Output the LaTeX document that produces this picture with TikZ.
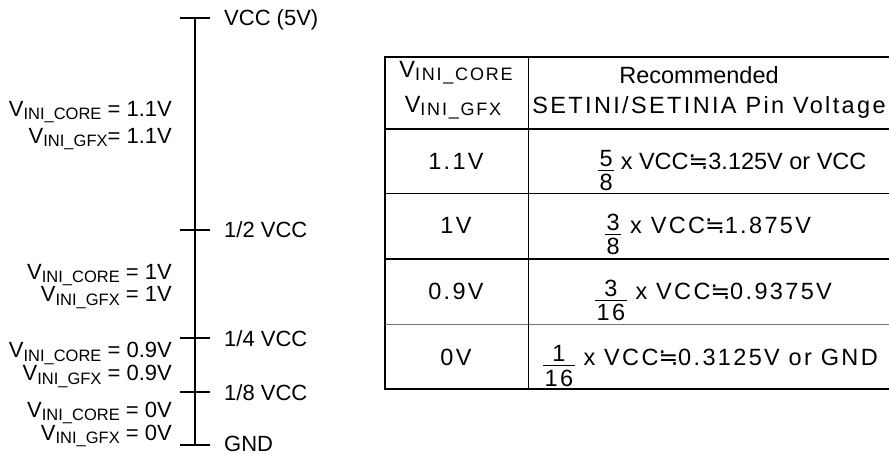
\documentclass[tikz,border=0pt]{standalone}
\usepackage{fontspec}
\setmainfont{Liberation Sans}
\newfontfamily\tabfont[LetterSpace=10]{Liberation Sans}
\newfontfamily\dejavu{DejaVu Sans}
\newcommand\vsub[1]{V\raisebox{-3pt}{\fontsize{16.5}{18}\selectfont #1}}
\newcommand\tvsub[1]{V\raisebox{-3pt}{\fontsize{18}{20}\selectfont #1}}
\newcommand\myappr{{\dejavu ≒}}
\newcommand\myfrac[2]{\raisebox{3pt}{\setlength\arrayrulewidth{1pt}\begin{tabular}[t]{@{\hspace{1.5pt}}c@{\hspace{1.5pt}}}#1\\[-5.5pt]\hline\noalign{\vskip1.5pt}#2\end{tabular}}}
\tikzset{
  txt/.style={inner sep=0pt, font=\fontsize{22}{26}\selectfont},
  ttxt/.style={inner sep=0pt, font=\fontsize{23.5}{27}\selectfont\tabfont},
  ttxtn/.style={inner sep=0pt, font=\fontsize{23.5}{27}\selectfont\rmfamily},
  scaleline/.style={line width=1.3pt},
  thickrule/.style={line width=2pt},
  thinrule/.style={line width=1pt},
}
\begin{document}
\begin{tikzpicture}[x=1pt,y=-1pt]
\useasboundingbox (0,0) rectangle (889,454);
% ---- scale ----
\coordinate (t1) at (195,18);
\coordinate (t2) at (195,230);
\coordinate (t3) at (195,338);
\coordinate (t4) at (195,392);
\coordinate (t5) at (195,445);
\draw[scaleline] (t1) -- (t5);
\foreach \t in {t1,t2,t3,t4,t5}
  \draw[scaleline] ([xshift=-15pt]\t) -- ([xshift=15pt]\t);
\node[txt, anchor=base west] (l1) at (224,26) {VCC (5V)};
\node[txt, anchor=base west] (l2) at (224,238) {1/2 VCC};
\node[txt, anchor=base west] (l3) at (224,346) {1/4 VCC};
\node[txt, anchor=base west] (l4) at (224,400) {1/8 VCC};
\node[txt, anchor=base west] (l5) at (224,451) {GND};
% ---- left labels ----
\node[txt, anchor=base east] (a1) at (172,117) {\vsub{INI\_CORE} = 1.1V};
\node[txt, anchor=base east] (a2) at (172,144) {\vsub{INI\_GFX}= 1.1V};
\node[txt, anchor=base east] (b1) at (172,280) {\vsub{INI\_CORE} = 1V};
\node[txt, anchor=base east] (b2) at (172,302) {\vsub{INI\_GFX} = 1V};
\node[txt, anchor=base east] (c1) at (172,358) {\vsub{INI\_CORE} = 0.9V};
\node[txt, anchor=base east] (c2) at (172,381) {\vsub{INI\_GFX} = 0.9V};
\node[txt, anchor=base east] (d1) at (172,417) {\vsub{INI\_CORE} = 0V};
\node[txt, anchor=base east] (d2) at (172,440) {\vsub{INI\_GFX} = 0V};
% ---- table ----
\draw[thickrule] (889,57) -- (385,57) -- (385,389) -- (889,389);
\draw[thickrule] (385,129) -- (889,129);
\draw[thickrule] (385,259) -- (889,259);
\draw[thinrule] (385,194) -- (889,194);
\draw[thinrule, black!55] (385,325) -- (889,325);
\draw[thinrule] (528,57) -- (528,389);
\node[ttxt, anchor=base] (h1) at (456,78) {\tvsub{INI\_CORE}};
\node[ttxt, anchor=base] (h2) at (453,113) {\tvsub{INI\_GFX}};
\node[ttxtn, anchor=base] (h3) at (699,84) {Recommended};
\node[ttxt, anchor=base] (h4) at (709,114) {SETINI/SETINIA Pin Voltage};
\node[ttxt, anchor=base] (r1a) at (456,170) {1.1V};
\node[ttxt, anchor=base] (r2a) at (456,234) {1V};
\node[ttxt, anchor=base] (r3a) at (456,300) {0.9V};
\node[ttxt, anchor=base] (r4a) at (456,365) {0V};
\node[ttxtn, anchor=base west] (r1b) at (598,170) {\myfrac{5}{8} x VCC\myappr3.125V or VCC};
\node[ttxt, anchor=base west] (r2b) at (605,234) {\myfrac{3}{8} x VCC\myappr1.875V};
\node[ttxt, anchor=base west] (r3b) at (595,300) {\myfrac{3}{16} x VCC\myappr0.9375V};
\node[ttxt, anchor=base west] (r4b) at (543,365) {\myfrac{1}{16} x VCC\myappr0.3125V or GND};
\end{tikzpicture}
\end{document}
